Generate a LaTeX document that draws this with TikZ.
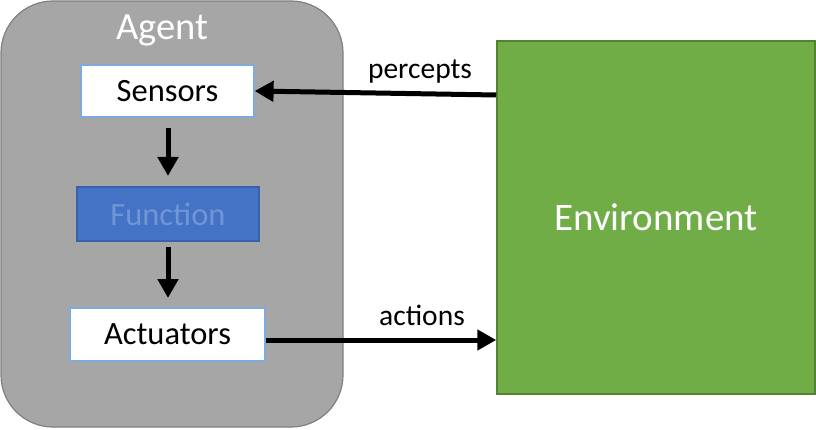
\documentclass[tikz,border=0pt]{standalone}
\usepackage{fontspec}
\setmainfont{Carlito}
\usetikzlibrary{arrows.meta}
\definecolor{agentgray}{HTML}{A6A6A6}
\definecolor{agentborder}{HTML}{7F7F7F}
\definecolor{boxborder}{HTML}{7EAADF}
\definecolor{funcfill}{HTML}{4472C4}
\definecolor{funcborder}{HTML}{3A62AC}
\definecolor{functext}{HTML}{7196D8}
\definecolor{envfill}{HTML}{70AD47}
\definecolor{envborder}{HTML}{548235}
\tikzset{
  whitebox/.style={draw=boxborder, line width=1.2pt, fill=white, inner sep=0pt, font=\fontsize{32.5}{38}\selectfont},
  funcbox/.style={draw=funcborder, line width=1.2pt, fill=funcfill, inner sep=0pt, text=functext, font=\fontsize{32.5}{38}\selectfont},
  flow/.style={line width=5pt, -{Triangle[width=20pt,length=19pt]}},
  lbl/.style={font=\fontsize{29.5}{34}\selectfont, inner sep=0pt}
}
\begin{document}
\begin{tikzpicture}[x=1pt,y=-1pt]
\useasboundingbox (0,0) rectangle (816,430);
% agent container
\node[draw=agentborder, line width=1.2pt, fill=agentgray, rounded corners=52pt,
      minimum width=342pt, minimum height=426pt, inner sep=0pt] (agent) at (172,214) {};
\node[text=white, font=\fontsize{38.5}{44}\selectfont, inner sep=0pt] (agentlbl) at (162,30) {Agent};
% inner boxes
\node[whitebox, minimum width=173pt, minimum height=52pt] (sensors) at (167.5,91) {Sensors};
\node[funcbox, minimum width=182pt, minimum height=54pt] (function) at (168,214) {Function};
\node[whitebox, minimum width=195pt, minimum height=53pt] (actuators) at (167.5,334.5) {Actuators};
% environment
\node[draw=envborder, line width=1.5pt, fill=envfill, minimum width=318pt, minimum height=353pt,
      inner sep=0pt, text=white, font=\fontsize{39}{45}\selectfont] (env) at (656,217.5) {Environment};
% internal arrows
\coordinate (s1) at (168,128);
\coordinate (s2) at (168,176);
\coordinate (f1) at (168,247);
\coordinate (f2) at (168,298);
\draw[flow] (s1) -- (s2);
\draw[flow] (f1) -- (f2);
% percepts / actions
\coordinate (penv) at (env.west |- 0,95);
\draw[flow] (penv) -- (sensors.east);
\node[lbl] (percepts) at (420,72) {percepts};
\coordinate (aact) at (actuators.east |- 0,340);
\coordinate (aenv) at (env.west |- 0,340);
\draw[flow] (aact) -- (aenv);
\node[lbl] (actions) at (422,315) {actions};
\end{tikzpicture}
\end{document}
